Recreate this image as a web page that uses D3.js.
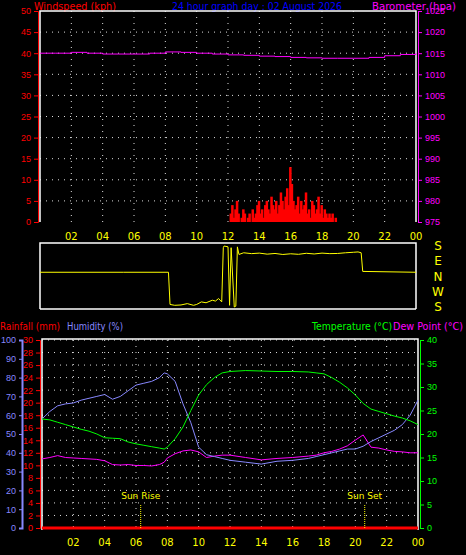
<!DOCTYPE html><html><head><meta charset="utf-8">
<script src="https://cdn.jsdelivr.net/npm/d3@7"></script>
<style>body{margin:0;background:#000}svg{display:block;font-family:"DejaVu Sans",sans-serif}</style></head><body>
<script>
const hourLabels=["02","04","06","08","10","12","14","16","18","20","22","00"];
const baroHours=[0,1,2,3,4,5,6,7,8,9,10,11,12,13,14,15,16,17,18,19,20,21,22,23,24];
const baroVals=[1015,1015,1015.2,1015,1014.8,1014.8,1014.8,1015,1015.3,1015.2,1015,1014.8,1014.6,1014.5,1014.3,1014.2,1014,1013.9,1013.8,1013.8,1013.8,1014,1014.4,1014.7,1015];
const windStart=12.0, windStep=0.1;
const windVals=[0,2,4,1,3,5,2,0,1,3,2,0,1,2,0,3,1,2,4,5,2,3,1,4,5,3,2,6,4,3,5,2,4,7,5,3,6,8,4,13,9,5,3,4,6,2,5,3,4,7,2,3,1,5,4,2,3,6,2,4,1,3,2,1,2,1,2,0,1,0];
const dirHours=[0,5.3,5.35,8.2,8.3,8.6,9,9.4,9.8,10,10.3,10.6,11,11.2,11.4,11.6,11.7,11.75,12,12.1,12.2,12.4,12.5,12.6,12.7,13,13.5,14,14.5,15,15.5,16,16.5,17,17.5,18,18.5,19,19.5,20,20.3,20.5,20.6,24];
const dirVals=[25,25,25,25,-165,-170,-168,-160,-170,-165,-150,-155,-140,-145,-130,-150,170,180,175,-170,170,-180,-175,175,130,140,135,138,132,136,130,134,131,137,133,138,135,136,140,143,145,140,30,25];
const tHours=[0,0.5,1,1.5,2,2.5,3,3.5,4,4.5,5,5.5,6,6.5,7,7.5,7.8,8,8.5,9,9.5,10,10.5,11,11.5,12,13,14,15,16,17,17.5,18,18.5,19,19.5,20,20.5,21,21.5,22,22.5,23,23.5,24];
const tempVals=[23.2,23,22.5,22,21.5,21,20.6,20,19.2,19.1,19,18.3,17.9,17.6,17.3,17,16.8,17.2,19,21.5,25,28.3,30.5,32,33,33.3,33.5,33.4,33.3,33.3,33.2,33,32.8,32,31,29.8,28.3,26.5,25.3,24.8,24.3,23.8,23.4,22.8,22];
const humVals=[58,62,65,66,66.5,68,69,70,71,68.5,70,73,76,77,78,80,82.5,82,78,66,56,43,39,38,37,36,35,34,35.5,36,37,38,39,40,41,42,42,43.5,46,48,50,52,55,60,68];
const dewVals=[14.7,15,15.4,15,14.9,14.8,14.7,14.6,14.3,13.5,13.4,13.5,13.3,13.3,13.2,13.5,14,14.9,15.8,16.4,16.6,16.2,15,15.3,15.5,15.5,15,14.5,14.8,15,15.3,15.5,16,16.3,16.8,17.5,18.7,19.8,17.2,17,16.6,16.3,16.2,16,16];
const sunRise=6.3, sunSet=20.6;

const W=466,H=555;
const svg=d3.select("body").append("svg").attr("width",W).attr("height",H);
function txt(x,y,s,c,a,len){const t=svg.append("text").attr("x",x).attr("y",y).attr("fill",c).attr("font-size",10).attr("text-anchor",a||"start").text(s);if(len)t.attr("textLength",len).attr("lengthAdjust","spacingAndGlyphs");return t;}
const grid="#ddd";
const x1=d3.scaleLinear([0,24],[40,416]);
const yW=d3.scaleLinear([0,50],[222,11]);
const yB=d3.scaleLinear([975,1025],[222,11]);
txt(34,10,"Windspeed (kph)","#f00","start",82);
txt(172,10,"24 hour graph day : 02 August 2026","#00f","start",170);
txt(372,10,"Barometer (hpa)","#f0f","start",84);
function frame(x0,y0,x1_,y1_){svg.append("path").attr("d",`M${x0},${y1_}V${y0}H${x1_}V${y1_}`).attr("stroke","#fff").attr("fill","none").attr("stroke-width",1.5);}
const g1=svg.append("g");
d3.range(5,50,5).forEach(v=>g1.append("line").attr("x1",40).attr("x2",416).attr("y1",yW(v)).attr("y2",yW(v)).attr("stroke",grid).attr("stroke-dasharray","1,5"));
d3.range(2,24,2).forEach(h=>g1.append("line").attr("x1",x1(h)).attr("x2",x1(h)).attr("y1",11).attr("y2",222).attr("stroke",grid).attr("stroke-dasharray","1,5"));
frame(40,11,416,222);
function ax(sel,c){sel.selectAll("text").attr("fill",c).attr("font-size",9);sel.selectAll("line,path").attr("stroke",c);}
svg.append("g").attr("transform","translate(38,0)").call(d3.axisLeft(yW).ticks(10).tickSize(4)).call(a=>ax(a,"#f00"));
svg.append("g").attr("transform","translate(418,0)").call(d3.axisRight(yB).ticks(10).tickSize(4).tickFormat(d3.format("d"))).call(a=>ax(a,"#f0f"));
svg.append("g").selectAll("rect").data(windVals).join("rect").attr("x",(d,i)=>x1(windStart+i*windStep)).attr("width",2.5).attr("y",d=>yW(d)).attr("height",d=>yW(0)-yW(d)).attr("fill","#f00");
svg.append("path").datum(baroHours.map((h,i)=>[h,baroVals[i]])).attr("d",d3.line().x(d=>x1(d[0])).y(d=>yB(d[1])).curve(d3.curveStepAfter)).attr("stroke","#f0f").attr("fill","none");
hourLabels.forEach((l,i)=>txt(x1(2+2*i),240,l,"#ff0","middle"));
const yD=d3.scaleLinear([180,-180],[246,307]);
frame(40,243,416,309);svg.append("line").attr("x1",40).attr("x2",416).attr("y1",309).attr("y2",309).attr("stroke","#fff").attr("stroke-width",1.5);
svg.append("path").datum(dirHours.map((h,i)=>[h,dirVals[i]])).attr("d",d3.line().x(d=>x1(d[0])).y(d=>yD(d[1]))).attr("stroke","#ff0").attr("fill","none");
["S","E","N","W","S"].forEach((s,i)=>txt(438,yD(180-90*i)+4,s,"#ff0","middle").attr("font-size",12));
const x3=d3.scaleLinear([0,24],[42,418]);
const yT=d3.scaleLinear([0,40],[528,340]);
const yH=d3.scaleLinear([0,100],[528,340]);
const yR=d3.scaleLinear([0,30],[528,340]);
txt(0,330,"Rainfall (mm)","#f00","start",60);txt(67,330,"Humidity (%)","#88f","start",56);
txt(312,330,"Temperature (°C)","#0f0","start",80);txt(393,330,"Dew Point (°C)","#f0f","start",70);
d3.range(2,31,2).forEach(v=>svg.append("line").attr("x1",42).attr("x2",418).attr("y1",yR(v)).attr("y2",yR(v)).attr("stroke",grid).attr("stroke-dasharray","1,5"));
d3.range(2,24,2).forEach(h=>svg.append("line").attr("x1",x3(h)).attr("x2",x3(h)).attr("y1",340).attr("y2",528).attr("stroke",grid).attr("stroke-dasharray","1,5"));
frame(42,339,418,530);
svg.append("g").attr("transform","translate(40,0)").call(d3.axisLeft(yR).tickValues(d3.range(0,31,2)).tickSize(4)).call(a=>ax(a,"#f00"));
svg.append("g").attr("transform","translate(22,0)").call(d3.axisLeft(yH).ticks(10).tickSize(3)).call(a=>ax(a,"#88f")).select("path").attr("stroke-width",2);
svg.append("g").attr("transform","translate(420,0)").call(d3.axisRight(yT).ticks(8).tickSize(4)).call(a=>ax(a,"#0f0"));
svg.append("line").attr("x1",x3(0)).attr("x2",x3(24)).attr("y1",yR(0)).attr("y2",yR(0)).attr("stroke","#f00").attr("stroke-width",3);
const ln=(vals,sc,c)=>svg.append("path").datum(tHours.map((h,i)=>[h,vals[i]])).attr("d",d3.line().x(d=>x3(d[0])).y(d=>sc(d[1]))).attr("stroke",c).attr("fill","none");
ln(dewVals,yT,"#f0f");ln(humVals,yH,"#88f");ln(tempVals,yT,"#0f0");
[[sunRise,"Sun Rise"],[sunSet,"Sun Set"]].forEach(([h,l])=>{svg.append("line").attr("x1",x3(h)).attr("x2",x3(h)).attr("y1",505).attr("y2",528).attr("stroke","#ff0").attr("stroke-dasharray","1,1");txt(x3(h),499,l,"#ff0","middle").attr("font-size",9);});
hourLabels.forEach((l,i)=>txt(x3(2+2*i),546,l,"#ff0","middle"));
</script></body></html>
